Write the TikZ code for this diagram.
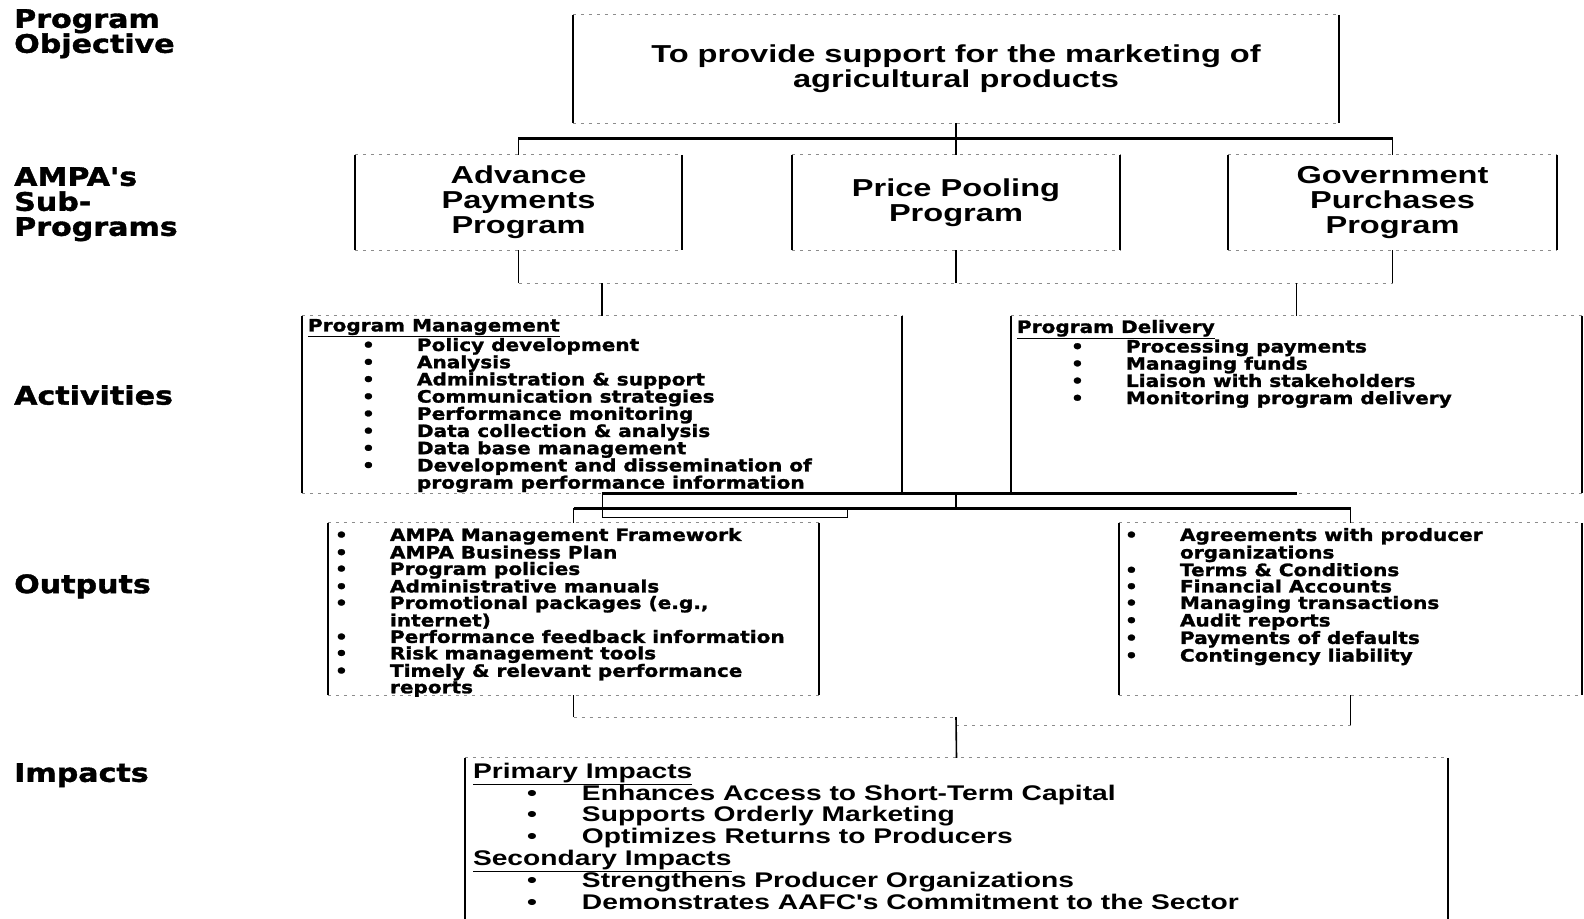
\documentclass[tikz,border=0pt]{standalone}
\usepackage{fontspec}
\newfontfamily\heavyfont{DejaVu Sans}[FakeStretch=1.18,FakeBold=1.5]
\newfontfamily\armfont{Liberation Sans}[FakeStretch=1.33]
\usetikzlibrary{calc}
\newcommand\hdr[1]{\underline{#1}}
\newcommand\listitem[1]{\hspace*{54pt}\makebox[55pt][l]{•}#1}
\newcommand\listmore[1]{\hspace*{109pt}#1}
\newcommand\outitem[1]{\makebox[55pt][l]{•}#1}
\newcommand\outmore[1]{\hspace*{55pt}#1}
\tikzset{
  edgeline/.style={line width=1.6pt},
  faintline/.style={line width=0.9pt,black!45,dash pattern=on 3pt off 5pt},
  link/.style={line width=1.6pt},
  barline/.style={line width=3pt},
  scanbox/.style={inner sep=0pt,append after command={
     (\tikzlastnode.north west) edge[faintline] (\tikzlastnode.north east)
     (\tikzlastnode.south west) edge[faintline] (\tikzlastnode.south east)
     (\tikzlastnode.north west) edge[edgeline] (\tikzlastnode.south west)
     (\tikzlastnode.north east) edge[edgeline] (\tikzlastnode.south east)}},
  armtext/.style={font=\armfont\bfseries\fontsize{24.5}{25}\selectfont,align=center},
  heavylist/.style={font=\heavyfont\bfseries\fontsize{17}{#1}\selectfont,align=left,inner sep=0pt,anchor=north west},
  implist/.style={font=\armfont\bfseries\fontsize{21.2}{21.8}\selectfont,align=left,inner sep=0pt,anchor=north west},
  rowlabel/.style={font=\heavyfont\bfseries\fontsize{25.5}{25}\selectfont,align=left,anchor=north west,inner sep=0pt}
}
\begin{document}
\begin{tikzpicture}[x=1pt,y=-1pt]
\path[use as bounding box](0,0)rectangle(1584,918);
\clip(0,0)rectangle(1584,918);
%row labels
\node[rowlabel] (lblobj) at (14,9) {Program\\Objective};
\node[rowlabel] (lblsub) at (14,167) {AMPA's\\Sub-\\Programs};
\node[rowlabel] (lblact) at (14,385) {Activities};
\node[rowlabel] (lblout) at (14,574) {Outputs};
\node[rowlabel] (lblimp) at (14,763) {Impacts};
%objective and sub-programs
\node[scanbox,armtext,minimum width=766,minimum height=108] (obj) at (956,69) {To provide support for the marketing of\\agricultural products};
\node[scanbox,armtext,minimum width=327,minimum height=95] (app) at (518.5,202.5) {Advance\\Payments\\Program};
\node[scanbox,armtext,minimum width=328,minimum height=95] (ppp) at (956,202.5) {Price Pooling\\Program};
\node[scanbox,armtext,minimum width=329,minimum height=95] (gpp) at (1392.5,202.5) {Government\\Purchases\\Program};
%activities
\node[scanbox,minimum width=600,minimum height=177] (pm) at (602,404.5) {};
\node[scanbox,minimum width=571,minimum height=177] (pd) at (1296.5,404.5) {};
\node[heavylist=17.2] (pmlist) at ($(pm.north west)+(6,3)$) {\hdr{Program Management}\\
  \listitem{Policy development}\\ \listitem{Analysis}\\ \listitem{Administration \& support}\\
  \listitem{Communication strategies}\\ \listitem{Performance monitoring}\\
  \listitem{Data collection \& analysis}\\ \listitem{Data base management}\\
  \listitem{Development and dissemination of}\\ \listmore{program performance information}};
\node[heavylist=17.2] (pdlist) at ($(pd.north west)+(6,4)$) {\hdr{Program Delivery}\\
  \listitem{Processing payments}\\ \listitem{Managing funds}\\
  \listitem{Liaison with stakeholders}\\ \listitem{Monitoring program delivery}};
%outputs
\node[scanbox,minimum width=491,minimum height=172] (lout) at (573.5,609) {};
\node[scanbox,minimum width=463,minimum height=172] (rout) at (1350.5,609) {};
\node[heavylist=16.4] (loutlist) at ($(lout.north west)+(7,5)$) {\outitem{AMPA Management Framework}\\
  \outitem{AMPA Business Plan}\\ \outitem{Program policies}\\ \outitem{Administrative manuals}\\
  \outitem{Promotional packages (e.g.,}\\ \outmore{internet)}\\
  \outitem{Performance feedback information}\\ \outitem{Risk management tools}\\
  \outitem{Timely \& relevant performance}\\ \outmore{reports}};
\node[heavylist=16.4] (routlist) at ($(rout.north west)+(6,5)$) {\outitem{Agreements with producer}\\
  \outmore{organizations}\\ \outitem{Terms \& Conditions}\\ \outitem{Financial Accounts}\\
  \outitem{Managing transactions}\\ \outitem{Audit reports}\\
  \outitem{Payments of defaults}\\ \outitem{Contingency liability}};
%impacts
\node[scanbox,minimum width=983,minimum height=177] (imp) at (956.5,846.5) {};
\node[implist] (implist) at ($(imp.north west)+(8,5)$) {\hdr{Primary Impacts}\\
  \listitem{Enhances Access to Short-Term Capital}\\ \listitem{Supports Orderly Marketing}\\
  \listitem{Optimizes Returns to Producers}\\ \hdr{Secondary Impacts}\\
  \listitem{Strengthens Producer Organizations}\\ \listitem{Demonstrates AAFC's Commitment to the Sector}};
%connectors
\coordinate (bar1) at (956,138);
\coordinate (bar2) at (956,283);
\coordinate (bar3) at (956,508);
\coordinate (kink) at (847,517);
\coordinate (bar4) at (956,717);
\coordinate (bar5) at (956,725);
\draw[link] (obj.south) -- (ppp.north);
\draw[link] (app.north) |- (bar1) -| (gpp.north);
\draw[barline] (app.north |- bar1) -- (gpp.north |- bar1);
\draw[link] (app.south) -- (app.south |- bar2);
\draw[link] (ppp.south) -- (bar2);
\draw[link] (gpp.south) -- (gpp.south |- bar2);
\draw[faintline] (app.south |- bar2) -- (gpp.south |- bar2);
\draw[link] (pm.north |- bar2) -- (pm.north);
\draw[link] (pd.north |- bar2) -- (pd.north);
\draw[barline] (pm.south) -- (pd.south);
\draw[link] (pm.south -| bar3) -- (bar3);
\draw[barline] (lout.north |- bar3) -- (rout.north |- bar3);
\draw[link] (lout.north |- bar3) -- (lout.north);
\draw[link] (rout.north |- bar3) -- (rout.north);
\draw[link,line width=1pt] (pm.south) |- (kink) -- (kink |- bar3);
\draw[link] (lout.south) -- (lout.south |- bar4);
\draw[faintline] (lout.south |- bar4) -- (bar4);
\draw[link] (rout.south) -- (rout.south |- bar5);
\draw[faintline] (bar5) -- (rout.south |- bar5);
\draw[link] (bar4) -- (imp.north);
\end{tikzpicture}
\end{document}
